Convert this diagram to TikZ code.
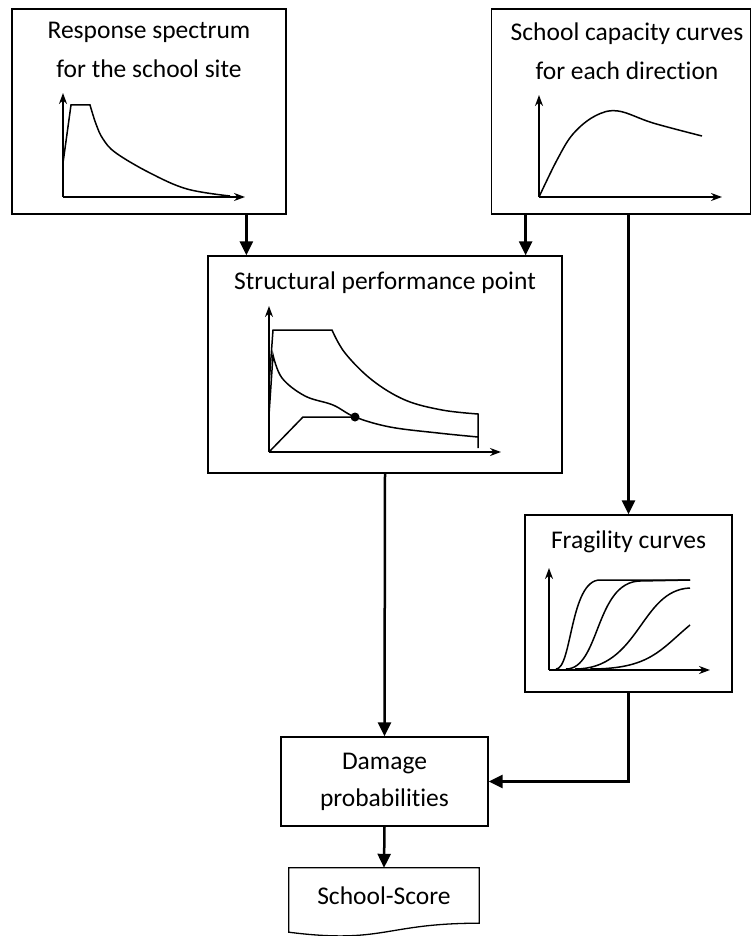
\documentclass[tikz,border=0pt]{standalone}
\usepackage{fontspec}
\setmainfont{Carlito}[Ligatures=CommonOff]
\usetikzlibrary{arrows.meta,positioning,calc}

\begin{document}
\begin{tikzpicture}[
    x=1pt, y=-1pt,
    box/.style={draw, line width=1.3pt, inner sep=0pt},
    title/.style={font=\fontsize{25.5}{39}\selectfont, align=center, inner sep=0pt, anchor=base},
    arrow/.style={-{Triangle[length=14pt,width=13pt]}, line width=2.5pt},
    axis/.style={-{Stealth[length=11pt,width=8pt]}, line width=2pt},
    curve/.style={line width=1.5pt}
]
\useasboundingbox (0,0) rectangle (752,936);

% Response spectrum
\node[box, minimum width=274, minimum height=205] (spectrum) at (149,111.5) {};
\node[title] (spectrumtitle) at (149,78) {Response spectrum\\for the school site};
\draw[axis] (63,197) -- (63,93);
\draw[axis] (63,197) -- (245,197);
\draw[curve] (63,163) -- (71,105) -- (90,105)
    -- plot[smooth, tension=0.6] coordinates {(90,105) (96,124) (103,139) (116,153) (150,173) (187,189) (230,196)};

% Capacity curves
\node[box, minimum width=259, minimum height=205] (capacity) at (621,111.5) {};
\node[title] (capacitytitle) at (627,80) {School capacity curves\\for each direction};
\draw[axis] (539,197) -- (539,95);
\draw[axis] (539,197) -- (722,197);
\draw[curve] plot[smooth, tension=0.6] coordinates {(539,197) (557,160) (573,134) (595,116) (618,111) (653,123) (702,136)};

% Performance point
\node[box, minimum width=354, minimum height=217] (perf) at (385,364.5) {};
\node[title] (perftitle) at (385,289) {Structural performance point};
\draw[axis] (269,452) -- (269,306);
\draw[axis] (269,452) -- (501,452);
\draw[curve] (269,385) -- (273,330) -- (332,330)
    -- plot[smooth, tension=0.6] coordinates {(332,330) (345,353) (372,380) (405,400) (442,410) (478,414)}
    -- (478,448);
\draw[curve] (269,415) -- (273,355)
    -- plot[smooth, tension=0.6] coordinates {(273,355) (282,378) (305,396) (333,405) (355,417) (390,427) (438,433) (478,437)};
\draw[curve] (269,452) -- (303,417) -- (355,417);
\fill (355,417) circle (4.5);

% Fragility curves
\node[box, minimum width=207, minimum height=177] (frag) at (628.5,603.5) {};
\node[title] (fragtitle) at (628.5,548) {Fragility curves};
\draw[axis] (549,670) -- (549,568);
\draw[axis] (549,670) -- (710,670);
\draw[curve] (556,669) .. controls (572,669) and (570,580) .. (600,580) -- (690,580);
\draw[curve] (566,669) .. controls (600,669) and (595,582) .. (640,581) -- (690,580);
\draw[curve] (575,669) .. controls (640,669) and (640,590) .. (690,588);
\draw[curve] (590,669) .. controls (650,669) and (660,650) .. (690,625);

% Damage and score
\node[box, minimum width=207, minimum height=89, font=\fontsize{25.5}{37}\selectfont, align=center] (damage) at (384.5,781.5) {Damage\\probabilities};
\node[inner sep=0pt, minimum width=190, minimum height=55, font=\fontsize{25.5}{37}\selectfont] (score) at (384,895.5) {School-Score};
\draw[line width=1.3pt] ([yshift=-9pt]score.south west) .. controls ($(score.south)+(0,21)$) and (score.south) .. (score.south east)
    -- (score.north east) -- (score.north west) -- cycle;

% Connections
\draw[arrow] ([xshift=39pt]perf.north west |- spectrum.south) -- ([xshift=39pt]perf.north west);
\draw[arrow] ([xshift=-37pt]perf.north east |- capacity.south) -- ([xshift=-37pt]perf.north east);
\draw[arrow] (frag.north |- capacity.south) -- (frag.north);
\draw[arrow] (perf.south) -- (damage.north);
\draw[arrow] (frag.south) |- (damage.east);
\draw[arrow] (damage.south) -- (score.north);

\end{tikzpicture}
\end{document}
